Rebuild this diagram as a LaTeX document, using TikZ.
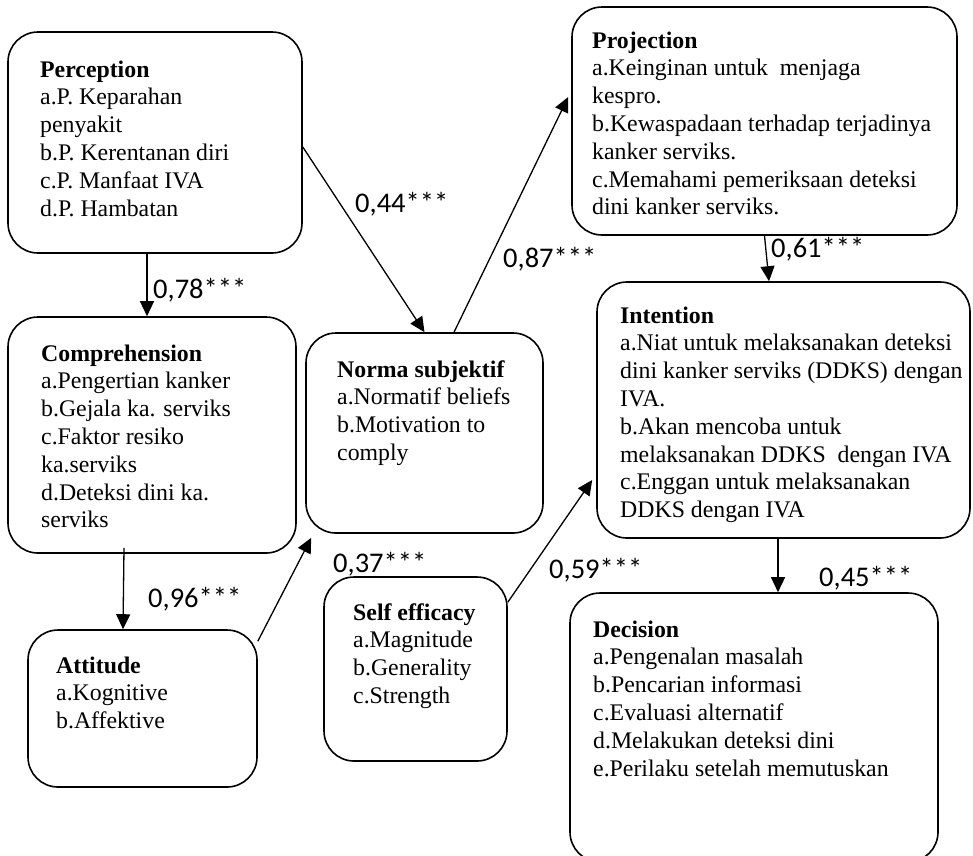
\documentclass[tikz,border=0pt]{standalone}
\usepackage{fontspec}
\setmainfont{Liberation Serif}
\newfontfamily\coeffont{Carlito}
\usetikzlibrary{arrows.meta}
\tikzset{
	box/.style={draw, line width=1.6pt, rounded corners=30pt, inner sep=0pt},
	boxtext/.style={anchor=north west, align=left, inner sep=0pt, font=\fontsize{23.8}{27.8}\selectfont},
	coef/.style={anchor=base west, inner sep=0pt, font=\coeffont\fontsize{28.5}{30}\selectfont},
	arr/.style={-{Triangle[length=15pt,width=14pt]}, line width=1.3pt}
}
\begin{document}
\begin{tikzpicture}[x=1pt,y=-1pt]
	\clip (0,0) rectangle (973,855);
	% boxes
	\node[box, minimum width=294pt, minimum height=221pt] (perc) at (155,142.5) {};
	\node[box, minimum width=288pt, minimum height=236pt] (comp) at (152,435) {};
	\node[box, minimum width=229pt, minimum height=157pt] (att) at (142.5,708.5) {};
	\node[box, minimum width=237pt, minimum height=200pt] (norma) at (424.5,433) {};
	\node[box, minimum width=183pt, minimum height=184pt] (self) at (415.5,669) {};
	\node[box, minimum width=385pt, minimum height=228pt] (proj) at (764.5,121) {};
	\node[box, minimum width=373pt, minimum height=256pt] (intent) at (783.5,410) {};
	\node[box, minimum width=368pt, minimum height=269pt] (dec) at (754,727.5) {};
	% texts (top of first strut = baseline - 19.5)
	\node[boxtext] (perc-t) at (40,57.5) {\strut\textbf{Perception}\\a.P. Keparahan\\penyakit\\b.P. Kerentanan diri\\c.P. Manfaat IVA\\d.P. Hambatan};
	\node[boxtext] (comp-t) at (41,341.5) {\strut\textbf{Comprehension}\\a.Pengertian kanker\\b.Gejala ka. serviks\\c.Faktor resiko\\ka.serviks\\d.Deteksi dini ka.\\serviks};
	\node[boxtext] (att-t) at (56,653.5) {\strut\textbf{Attitude}\\a.Kognitive\\b.Affektive};
	\node[boxtext] (norma-t) at (337,357.5) {\strut\textbf{Norma subjektif}\\a.Normatif beliefs\\b.Motivation to\\comply};
	\node[boxtext] (self-t) at (353,600.5) {\strut\textbf{Self efficacy}\\a.Magnitude\\b.Generality\\c.Strength};
	\node[boxtext] (proj-t) at (592,28.5) {\strut\textbf{Projection}\\a.Keinginan untuk\ \ menjaga\\kespro.\\b.Kewaspadaan terhadap terjadinya\\kanker serviks.\\c.Memahami pemeriksaan deteksi\\dini kanker serviks.};
	\node[boxtext] (intent-t) at (620,303.5) {\strut\textbf{Intention}\\a.Niat untuk melaksanakan deteksi\\dini kanker serviks (DDKS) dengan\\IVA.\\b.Akan mencoba untuk\\melaksanakan DDKS\ \ dengan IVA\\c.Enggan untuk melaksanakan\\DDKS dengan IVA};
	\node[boxtext] (dec-t) at (593,617.5) {\strut\textbf{Decision}\\a.Pengenalan masalah\\b.Pencarian informasi\\c.Evaluasi alternatif\\d.Melakukan deteksi dini\\e.Perilaku setelah memutuskan};
	% connectors
	\draw[arr] ([xshift=-8pt]perc.south) -- ([xshift=-8pt]perc.south |- comp.north);
	\draw[arr] ([yshift=-4.5pt]perc.east) -- (norma.north);
	\draw[arr] ([xshift=29.5pt]norma.north) -- ([xshift=-3pt,yshift=24pt]proj.west);
	\draw[arr] (proj.south) -- ([xshift=-14.5pt]intent.north);
	\draw[arr] ([xshift=-28pt,yshift=6pt]comp.south) -- ([xshift=-19.5pt]att.north);
	\draw[arr] ([yshift=-12pt]att.north east) -- ([xshift=6pt,yshift=-4pt]norma.south west);
	\draw[arr] ([yshift=-26pt]self.north east) -- ([xshift=-4pt,yshift=-70pt]intent.west);
	\draw[arr] ([xshift=-5.5pt]intent.south) -- ([xshift=24pt]dec.north);
	% coefficients
	\node[coef] (c78) at (153,298) {0,78***};
	\node[coef] (c44) at (355,212) {0,44***};
	\node[coef] (c87) at (503,267) {0,87***};
	\node[coef] (c61) at (771,257) {0,61***};
	\node[coef] (c96) at (148,607) {0,96***};
	\node[coef] (c37) at (333,572) {0,37***};
	\node[coef] (c59) at (549,578) {0,59***};
	\node[coef] (c45) at (819,586) {0,45***};
\end{tikzpicture}
\end{document}
